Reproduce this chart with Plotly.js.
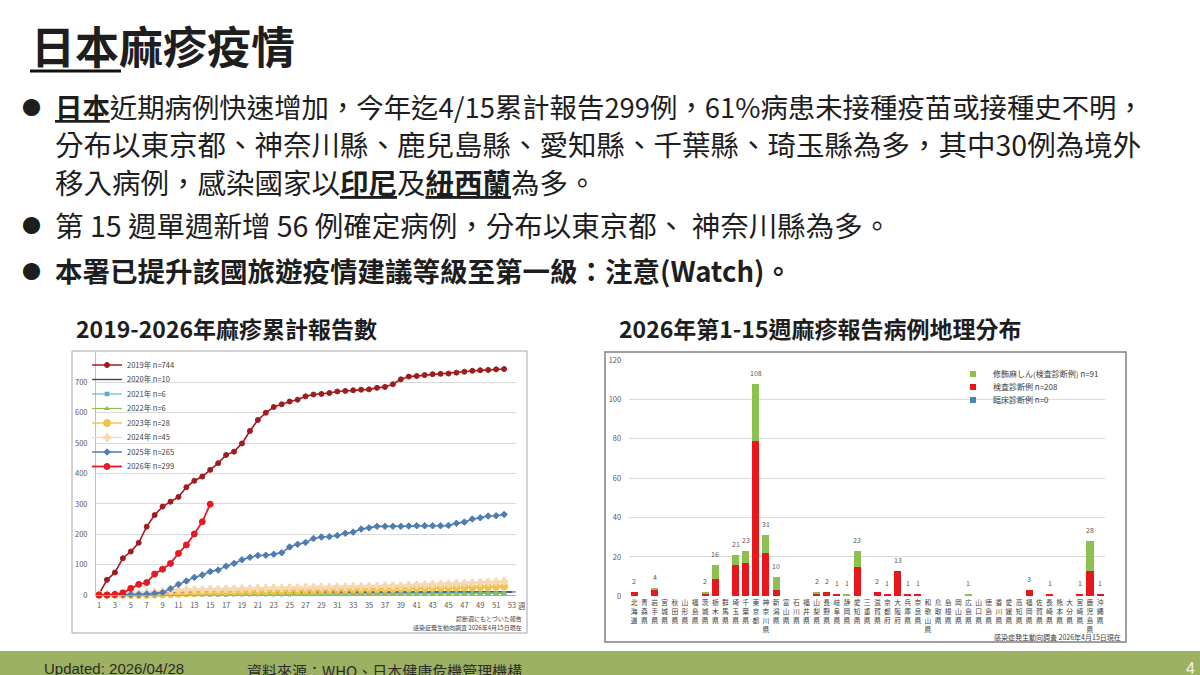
<!DOCTYPE html>
<html><head><meta charset="utf-8">
<script src="https://cdn.plot.ly/plotly-3.0.1.min.js"></script>
<style>html,body{margin:0;padding:0;background:#fff;}#chart{width:1200px;height:675px;}</style>
</head><body><div id="chart"></div>
<script>
// ---------- data ----------
const weeks = [1,2,3,4,5,6,7,8,9,10,11,12,13,14,15,16,17,18,19,20,21,22,23,24,25,26,27,28,29,30,31,32,33,34,35,36,37,38,39,40,41,42,43,44,45,46,47,48,49,50,51,52,53];
const cum2019 = [3,50,74,121,143,172,225,263,291,307,323,355,376,390,412,434,461,472,499,540,576,600,619,628,637,643,654,660,662,665,670,672,674,676,677,682,685,694,710,719,721,724,727,728,729,732,735,738,740,741,743,744];
const cum2020 = [0,1,2,3,4,5,6,7,8,8,9,9,9,10,10,10,10,10,10,10,10,10,10,10,10,10,10,10,10,10,10,10,10,10,10,10,10,10,10,10,10,10,10,10,10,10,10,10,10,10,10,10,10];
const cum2021 = [0,0,0,0,0,1,1,1,1,1,2,2,2,2,2,2,2,3,3,3,3,3,3,3,3,4,4,4,4,4,4,4,4,5,5,5,5,5,5,5,5,5,5,5,6,6,6,6,6,6,6,6];
const cum2022 = [0,0,0,0,0,0,0,0,0,0,1,1,1,1,1,1,1,1,1,1,2,2,2,2,2,2,3,3,3,3,3,3,3,4,4,4,4,4,4,4,5,5,5,5,5,5,5,5,6,6,6,6];
const cum2023 = [0,0,0,0,0,0,0,1,2,3,4,5,6,7,8,9,10,10,11,11,12,12,13,13,14,14,15,15,16,16,17,17,18,18,19,19,20,20,21,21,22,22,23,23,24,24,25,25,26,26,27,28];
const cum2024 = [0,1,2,3,5,7,8,10,12,14,16,17,18,18,19,19,20,20,21,21,22,22,23,23,24,24,25,25,26,26,27,27,28,28,29,29,30,30,31,32,33,34,35,36,37,38,39,40,41,42,43,45];
const cum2025 = [0,0,1,1,2,2,3,5,8,21,35,46,58,66,77,82,95,104,116,124,130,131,134,139,158,167,173,186,191,192,196,203,207,217,221,226,226,226,226,227,228,228,228,228,229,236,240,250,254,260,261,265];
const cum2026 = [0,0,2,7,22,35,41,69,85,104,137,165,201,241,299];
const seriesNames = ['2019年 n=744','2020年 n=10','2021年 n=6','2022年 n=6','2023年 n=28','2024年 n=45','2025年 n=265','2026年 n=299'];
const xTickVals = [1,3,5,7,9,11,13,15,17,19,21,23,25,27,29,31,33,35,37,39,41,43,45,47,49,51,53];
const yTickVals = [0,100,200,300,400,500,600,700];

const prefs = ['北海道','青森県','岩手県','宮城県','秋田県','山形県','福島県','茨城県','栃木県','群馬県','埼玉県','千葉県','東京都','神奈川県','新潟県','富山県','石川県','福井県','山梨県','長野県','岐阜県','静岡県','愛知県','三重県','滋賀県','京都府','大阪府','兵庫県','奈良県','和歌山県','鳥取県','島根県','岡山県','広島県','山口県','徳島県','香川県','愛媛県','高知県','福岡県','佐賀県','長崎県','熊本県','大分県','宮崎県','鹿児島県','沖縄県'];
const labConfirmed = [2,0,3,0,0,0,0,1,9,0,16,17,79,22,3,0,0,0,1,2,1,0,15,0,2,1,13,1,1,0,0,0,0,0,0,0,0,0,0,3,0,1,0,0,1,13,1];
const modified = [0,0,1,0,0,0,0,1,7,0,5,6,29,9,7,0,0,0,1,0,0,1,8,0,0,0,0,0,0,0,0,0,0,1,0,0,0,0,0,0,0,0,0,0,0,15,0];
const clinical = [0,0,0,0,0,0,0,0,0,0,0,0,0,0,0,0,0,0,0,0,0,0,0,0,0,0,0,0,0,0,0,0,0,0,0,0,0,0,0,0,0,0,0,0,0,0,0];
const barNames = ['修飾麻しん(検査診断例) n=91','検査診断例 n=208','臨床診断例 n=0'];

// ---------- helpers ----------
const W = 1200, H = 675;
const px = x => x / W, py = y => 1 - y / H;
const TC = 'Noto Sans CJK TC', JP = 'Noto Sans CJK JP';
const INK = '#1e1e1e';

// ---------- traces ----------
const lineStyles = [
  {color:'#9e1b20', width:1.6, symbol:'circle', size:5},
  {color:'#4b3a6e', width:1.4, symbol:'line-ew-open', size:5},
  {color:'#4bacc6', width:1.2, symbol:'x', size:4},
  {color:'#8fbf4f', width:1.2, symbol:'triangle-up', size:4},
  {color:'#f2c24a', width:1.6, symbol:'circle', size:7},
  {color:'#f6d9b4', width:1.4, symbol:'cross', size:6},
  {color:'#4f7db3', width:1.6, symbol:'diamond', size:5},
  {color:'#e31b23', width:1.8, symbol:'circle', size:6}
];
const lineData = [cum2019, cum2020, cum2021, cum2022, cum2023, cum2024, cum2025, cum2026];
const traces = [];
lineData.forEach((ys, i) => {
  const s = lineStyles[i];
  traces.push({
    type:'scatter', mode:'lines+markers', name: seriesNames[i],
    x: weeks.slice(0, ys.length), y: ys, xaxis:'x', yaxis:'y',
    line:{color:s.color, width:s.width},
    marker:{color:s.color, symbol:s.symbol, size:s.size, line:{color:s.color, width:1}},
    cliponaxis:false, legend: i === 0 ? 'legend' : 'legend' + (i + 1), showlegend:true
  });
});
const barColors = ['#8cc152', '#e8171b', '#4f81bd'];
traces.push({type:'bar', name:barNames[2], x:prefs, y:clinical, xaxis:'x2', yaxis:'y2', marker:{color:barColors[2]}, showlegend:false});
traces.push({type:'bar', name:barNames[1], x:prefs, y:labConfirmed, xaxis:'x2', yaxis:'y2', marker:{color:barColors[1]}, showlegend:false});
traces.push({type:'bar', name:barNames[0], x:prefs, y:modified, xaxis:'x2', yaxis:'y2', marker:{color:barColors[0]}, showlegend:false});
// legend entries for the bar chart
barNames.forEach((n, i) => {
  traces.push({type:'scatter', mode:'markers', name:n, x:[null], y:[null], xaxis:'x2', yaxis:'y2',
    marker:{symbol:'square', size:6, color:barColors[i]}, legend:'legend' + (9 + i), showlegend:true});
});

// ---------- annotations ----------
const ann = [];
function txt(text, x, y, size, opts) {
  ann.push(Object.assign({text, x:px(x), y:py(y), xref:'paper', yref:'paper', showarrow:false,
    xanchor:'left', yanchor:'middle', font:{family:TC, size, color:INK}}, opts || {}));
}
txt('<b>日本麻疹疫情</b>', 29, 45, 44);
const bullets = [
  ['<b><u>日本</u></b>近期病例快速增加，今年迄4/15累計報告299例，61%病患未接種疫苗或接種史不明，', 106, true, 27.4],
  ['分布以東京都、神奈川縣、鹿兒島縣、愛知縣、千葉縣、琦玉縣為多，其中30例為境外', 143, false, 28.5],
  ['移入病例，感染國家以<b><u>印尼</u></b>及<b><u>紐西蘭</u></b>為多。', 181, false, 28.5],
  ['第 15 週單週新增 56 例確定病例，分布以東京都、 神奈川縣為多。', 225, true, 28.5],
  ['<b>本署已提升該國旅遊疫情建議等級至第一級：注意(Watch)。</b>', 270, true, 27.5]
];
bullets.forEach(b => {
  txt(b[0], 53, b[1], b[3]);
  if (b[2]) txt('●', 31, b[1], 19, {xanchor:'center'});
});
txt('<b>2019-2026年麻疹累計報告數</b>', 74, 328, 23);
txt('<b>2026年第1-15週麻疹報告病例地理分布</b>', 617, 328, 23);
// chart notes
txt('週', 516, 605, 7.5, {font:{family:JP, size:7.5, color:'#595959'}});
txt('診断週にもとづいた報告', 524, 618, 6, {xanchor:'right', font:{family:JP, size:6, color:'#404040'}});
txt('感染症発生動向調査 2026年4月15日現在', 524, 627, 6, {xanchor:'right', font:{family:JP, size:6, color:'#404040'}});
txt('感染症発生動向調査 2026年4月15日現在', 1123, 637, 7, {xanchor:'right', font:{family:JP, size:7, color:'#404040'}});
// footer
txt('Updated: 2026/04/28', 42, 658, 15, {yanchor:'top', font:{family:'Liberation Sans', size:15, color:'#2b2b2b'}});
txt('資料來源：WHO、日本健康危機管理機構', 245, 658, 15, {yanchor:'top', font:{family:TC, size:15, color:'#2b2b2b'}});
txt('4', 1190, 658, 16, {xanchor:'center', yanchor:'top', font:{family:'Liberation Sans', size:16, color:'#f4f4f4'}});
// bar totals
prefs.forEach((p, i) => {
  const tot = labConfirmed[i] + modified[i] + clinical[i];
  if (tot > 0) ann.push({text:String(tot), x:p, y:tot, xref:'x2', yref:'y2', showarrow:false,
    yanchor:'bottom', yshift:4, font:{family:JP, size:7, color:'#595959'}});
});

// ---------- shapes ----------
const shapes = [
  {type:'line', xref:'paper', yref:'paper', x0:px(30), x1:px(121), y0:py(71), y1:py(71), line:{color:'#111', width:3}},
  {type:'rect', xref:'paper', yref:'paper', x0:px(72), x1:px(527), y0:py(351), y1:py(633), line:{color:'#a6a6a6', width:1}},
  {type:'rect', xref:'paper', yref:'paper', x0:px(605), x1:px(1126), y0:py(352), y1:py(642), line:{color:'#808080', width:1.5}},
  {type:'rect', xref:'paper', yref:'paper', x0:px(100), x1:px(168), y0:py(356), y1:py(477), fillcolor:'#fff', line:{width:0}, layer:'between'},
  {type:'rect', xref:'paper', yref:'paper', x0:px(962), x1:px(1099), y0:py(366), y1:py(406), fillcolor:'#fff', line:{width:0}, layer:'between'},
  {type:'rect', xref:'paper', yref:'paper', x0:0, x1:1, y0:0, y1:py(651), fillcolor:'#9db162', line:{width:0}, layer:'below'}
];

// ---------- legends ----------
const leftLegendY = [365, 379.5, 394, 408.5, 423, 437.5, 452, 466.5];
const legends = {};
leftLegendY.forEach((y, i) => {
  legends[i === 0 ? 'legend' : 'legend' + (i + 1)] = {
    x:px(87), y:py(y), xanchor:'left', yanchor:'middle', bgcolor:'rgba(0,0,0,0)', borderwidth:0,
    itemwidth:30, font:{family:JP, size:7.5, color:'#404040'}, itemclick:false
  };
});
[374, 387, 400].forEach((y, i) => {
  legends['legend' + (9 + i)] = {
    x:px(953), y:py(y), xanchor:'left', yanchor:'middle', bgcolor:'rgba(0,0,0,0)', borderwidth:0,
    itemwidth:30, font:{family:JP, size:8, color:'#404040'}, itemclick:false
  };
});

const vertical = prefs.map(p => p.split('').join('<br>'));

const layout = Object.assign({
  width:W, height:H, margin:{l:0, r:0, t:0, b:0}, paper_bgcolor:'#fff', plot_bgcolor:'rgba(0,0,0,0)',
  showlegend:true, barmode:'stack', bargap:0.3,
  font:{family:JP},
  xaxis:{domain:[px(96), px(516)], range:[0.62, 53.5], anchor:'y', tickvals:xTickVals, ticktext:xTickVals.map(String),
    showgrid:false, zeroline:false, showline:true, linecolor:'#a6a6a6', linewidth:1, ticks:'',
    tickfont:{family:JP, size:7.5, color:'#595959'}, ticklabelstandoff:3},
  yaxis:{domain:[py(595), py(352)], range:[0, 800], anchor:'x', tickvals:yTickVals, ticktext:yTickVals.map(String),
    showgrid:true, gridcolor:'#d9d9d9', zeroline:false, showline:true, linecolor:'#bfbfbf', ticks:'',
    tickfont:{family:JP, size:7.5, color:'#595959'}, ticklabelstandoff:6},
  xaxis2:{domain:[px(629.2), px(1105.2)], range:[-0.5, 46.5], anchor:'y2', type:'category', categoryarray:prefs,
    tickvals:prefs, ticktext:vertical, tickangle:0, showgrid:false, zeroline:false, showline:false, ticks:'',
    tickfont:{family:JP, size:6.8, color:'#404040'}, ticklabelstandoff:1},
  yaxis2:{domain:[py(596.3), py(360)], range:[0, 120], anchor:'x2', dtick:20, showgrid:true, gridcolor:'#d9d9d9',
    zeroline:false, showline:false, ticks:'', tickfont:{family:JP, size:7.5, color:'#595959'}, ticklabelstandoff:7},
  annotations:ann, shapes:shapes
}, legends);

Plotly.newPlot('chart', traces, layout, {staticPlot:true, displayModeBar:false});
</script></body></html>
